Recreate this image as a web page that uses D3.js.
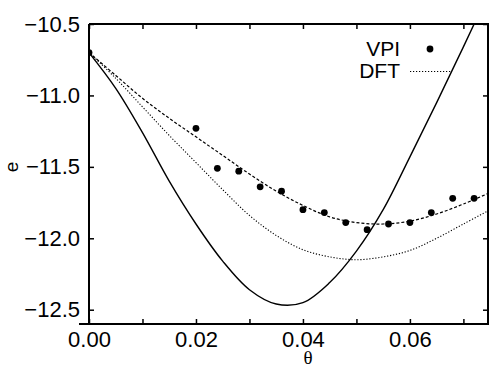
<!DOCTYPE html>
<html>
<head>
<meta charset="utf-8">
<script src="https://cdn.jsdelivr.net/npm/d3@7"></script>
<style>
  html, body { margin: 0; padding: 0; background: #fff; }
  svg { display: block; }
</style>
</head>
<body>
<svg id="chart" width="489" height="367"></svg>
<script>
/* energy vs theta: two model curves, DFT curve and VPI points */

// theta samples for the curves
const thetaGrid = [0, 0.005, 0.010, 0.015, 0.020, 0.025, 0.030, 0.035, 0.040, 0.045, 0.050, 0.055, 0.060, 0.065, 0.070, 0.075];

// upper dashed curve (fit through the VPI points)
const fitCurve = [-10.70, -10.86, -11.02, -11.16, -11.29, -11.42, -11.55, -11.67, -11.77, -11.85, -11.89, -11.90, -11.88, -11.83, -11.76, -11.68];

// dotted DFT curve
const dftCurve = [-10.70, -10.88, -11.08, -11.28, -11.47, -11.66, -11.84, -11.98, -12.08, -12.13, -12.15, -12.13, -12.085, -12.00, -11.90, -11.80];

// solid curve (deep minimum near 0.037)
const solidTheta = [0, 0.005, 0.010, 0.015, 0.020, 0.025, 0.030, 0.035, 0.040, 0.045, 0.050, 0.055, 0.060, 0.065, 0.070, 0.075];
const solidCurve = [-10.70, -10.95, -11.26, -11.60, -11.90, -12.16, -12.36, -12.46, -12.45, -12.31, -12.09, -11.80, -11.43, -11.05, -10.66, -10.26];

// VPI points
const vpiTheta = [0, 0.020, 0.024, 0.028, 0.032, 0.036, 0.040, 0.044, 0.048, 0.052, 0.056, 0.060, 0.064, 0.068, 0.072];
const vpiE     = [-10.70, -11.23, -11.51, -11.53, -11.64, -11.67, -11.80, -11.82, -11.89, -11.94, -11.90, -11.89, -11.82, -11.72, -11.72];

// ticks
const xTicks = [0, 0.01, 0.02, 0.03, 0.04, 0.05, 0.06, 0.07];
const yTicks = [-10.5, -11.0, -11.5, -12.0, -12.5];

const font = "'Liberation Sans', Arial, Helvetica, sans-serif";

const svg = d3.select("#chart");
const pLeft = 89, pRight = 488, pTop = 24, pBottom = 324;

const x = d3.scaleLinear().domain([0, 0.0746]).range([pLeft, pRight]);
const y = d3.scaleLinear().domain([-12.6, -10.5]).range([pBottom, pTop]);

svg.append("defs").append("clipPath").attr("id", "plot-clip")
  .append("rect")
  .attr("x", pLeft).attr("y", pTop)
  .attr("width", pRight - pLeft).attr("height", pBottom - pTop);

// curves
const line = d3.line()
  .x(d => x(d[0]))
  .y(d => y(d[1]))
  .curve(d3.curveCatmullRom.alpha(0.5));

const plot = svg.append("g").attr("clip-path", "url(#plot-clip)");

plot.append("path")
  .datum(solidTheta.map((t, i) => [t, solidCurve[i]]))
  .attr("d", line)
  .attr("fill", "none")
  .attr("stroke", "#000")
  .attr("stroke-width", 1.4);

plot.append("path")
  .datum(thetaGrid.map((t, i) => [t, dftCurve[i]]))
  .attr("d", line)
  .attr("fill", "none")
  .attr("stroke", "#000")
  .attr("stroke-width", 1.1)
  .attr("stroke-dasharray", "1.2,1.8");

plot.append("path")
  .datum(thetaGrid.map((t, i) => [t, fitCurve[i]]))
  .attr("d", line)
  .attr("fill", "none")
  .attr("stroke", "#000")
  .attr("stroke-width", 1.2)
  .attr("stroke-dasharray", "3,2");

plot.append("g")
  .selectAll("circle")
  .data(vpiTheta.map((t, i) => [t, vpiE[i]]))
  .join("circle")
  .attr("cx", d => x(d[0]))
  .attr("cy", d => y(d[1]))
  .attr("r", 3.4)
  .attr("fill", "#000");

// axes, ticks point inward
const axisStyle = g => {
  g.select(".domain").remove();
  g.selectAll(".tick line").attr("stroke", "#000").attr("stroke-width", 1.5);
  g.selectAll(".tick text")
    .attr("fill", "#000")
    .attr("font-family", font)
    .attr("font-size", "22px");
};

svg.append("g")
  .attr("transform", `translate(0,${pBottom})`)
  .call(d3.axisBottom(x).tickValues(xTicks).tickSize(-5).tickSizeOuter(0).tickPadding(7)
    .tickFormat((d, i) => i % 2 ? "" : d3.format(".2f")(d)))
  .call(axisStyle);

svg.append("g")
  .attr("transform", `translate(0,${pTop})`)
  .call(d3.axisTop(x).tickValues(xTicks).tickSize(-5).tickSizeOuter(0).tickFormat(""))
  .call(axisStyle);

svg.append("g")
  .attr("transform", `translate(${pLeft},0)`)
  .call(d3.axisLeft(y).tickValues(yTicks).tickSize(-5).tickSizeOuter(0).tickPadding(9)
    .tickFormat(d3.format(".1f")))
  .call(axisStyle);

svg.append("g")
  .attr("transform", `translate(${pRight},0)`)
  .call(d3.axisRight(y).tickValues(yTicks).tickSize(-5).tickSizeOuter(0).tickFormat(""))
  .call(axisStyle);

// frame
const frame = svg.append("g").attr("stroke", "#000").attr("stroke-width", 2).attr("fill", "none");
frame.append("line").attr("x1", 79).attr("x2", pRight + 1).attr("y1", pBottom).attr("y2", pBottom);
frame.append("line").attr("x1", pLeft).attr("x2", pRight + 1).attr("y1", pTop).attr("y2", pTop);
frame.append("line").attr("x1", pLeft).attr("x2", pLeft).attr("y1", pTop).attr("y2", pBottom);
frame.append("line").attr("x1", pRight).attr("x2", pRight).attr("y1", pTop).attr("y2", pBottom);

// axis titles
svg.append("text")
  .attr("x", 308).attr("y", 364)
  .attr("text-anchor", "middle")
  .attr("font-family", "'Liberation Serif', 'Times New Roman', serif")
  .attr("font-size", "19px")
  .text("θ");

svg.append("text")
  .attr("transform", "translate(18,167) rotate(-90)")
  .attr("text-anchor", "middle")
  .attr("font-family", font)
  .attr("font-size", "19px")
  .text("e");

// legend
const legend = svg.append("g").attr("font-family", font).attr("font-size", "21px");
legend.append("text").attr("x", 400).attr("y", 56).attr("text-anchor", "end").text("VPI");
legend.append("circle").attr("cx", 430).attr("cy", 49).attr("r", 3.4).attr("fill", "#000");
legend.append("text").attr("x", 400).attr("y", 78).attr("text-anchor", "end").text("DFT");
legend.append("line")
  .attr("x1", 410).attr("x2", 451).attr("y1", 71.5).attr("y2", 71.5)
  .attr("stroke", "#000").attr("stroke-width", 1.1).attr("stroke-dasharray", "1.2,1.8");
</script>
</body>
</html>
